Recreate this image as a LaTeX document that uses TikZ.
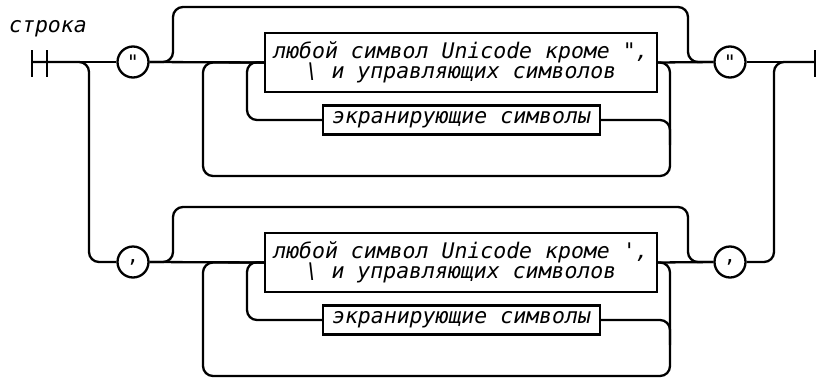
\documentclass[tikz,border=0pt]{standalone}
\usepackage{fontspec}
\newfontfamily\railfont{DejaVu Sans Mono}
\usepackage{tikz}
\usetikzlibrary{positioning}

\begin{document}
\begin{tikzpicture}[
x=1pt, y=-1pt,
line width=2.3pt,
rounded corners=10pt,
    T/.style = {circle, draw, fill=white,% terminal symbols in circles
                minimum size=31pt, inner sep=0pt,
                font=\railfont\fontsize{20}{20}\selectfont},
    R/.style = {rectangle, draw, fill=white, sharp corners,% rule boxes
                inner sep=0pt, align=center,
                font=\railfont\itshape\fontsize{21.5}{20.5}\selectfont},
                        ]
\useasboundingbox (0,0) rectangle (824,378);
\node[anchor=base west, inner sep=0pt,
      font=\railfont\itshape\fontsize{21.5}{20}\selectfont] (name) at (8,32) {строка};
\coordinate (start) at (32,62);
\coordinate (stop)  at (815,62);
\coordinate (fork)  at (89,62);
\coordinate (join)  at (774,62);
\draw[sharp corners] (32,50) -- (32,77) (47,50) -- (47,77) (815,50) -- (815,77);
\foreach \r/\c/\q in {0/{\symbol{34}}/{\symbol{34}},1/{,}/{\symbol{39}}}% <-- row, terminal, quote
{
  \pgfmathsetmacro\oy{200*\r}
  \node[T] (a\r) at (133,\oy+62) {\c};
  \node[T] (b\r) at (730,\oy+62) {\c};
  \node[R, minimum width=392pt, minimum height=59pt] (s\r) at (461,\oy+62.5)
       {любой символ Unicode кроме \q,\\\textbackslash{} и управляющих символов};
  \node[R, minimum width=277pt, minimum height=29pt] (e\r) at (461.5,\oy+120)
       {экранирующие символы};
  \coordinate (ul\r) at (173,\oy+7);
  \coordinate (ur\r) at (688,\oy+7);
  \coordinate (cl\r) at (247,\oy+62);
  \coordinate (cr\r) at (670,\oy+145);
  \coordinate (ll\r) at (203,\oy+176);
  \coordinate (lr\r) at (670,\oy+176);
  \draw (a\r.east) -- (s\r.west);
  \draw (s\r.east) -- (b\r.west);
  \draw (a\r.east) -| (ul\r) -- (ur\r) |- (b\r.west);
  \draw (s\r.east) -| (lr\r) -- (ll\r) |- (s\r.west);
  \draw (s\r.west) -- (cl\r) |- (e\r.west);
  \draw (e\r.east) -| (cr\r);
}
\draw (start) -- (a0.west);
\draw (b0.east) -- (stop);
\draw (start) -- (fork) |- (a1.west);
\draw (b1.east) -| (join) -- (stop);
\end{tikzpicture}
\end{document}
